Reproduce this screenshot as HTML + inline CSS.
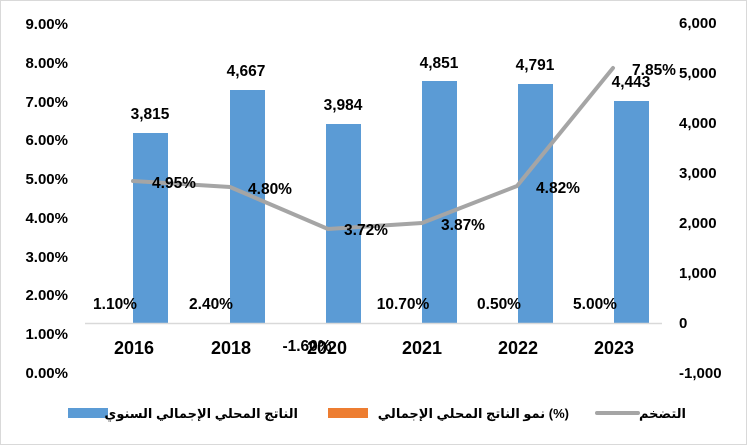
<!DOCTYPE html>
<html><head><meta charset="utf-8"><style>
html,body{margin:0;padding:0;background:#fff}
svg{display:block}
text{font-family:"Liberation Sans","DejaVu Sans",sans-serif;font-weight:bold;fill:#000}
</style></head><body>
<svg width="747" height="445" viewBox="0 0 747 445" xmlns="http://www.w3.org/2000/svg">
<rect x="0.5" y="0.5" width="746" height="444" fill="#fff" stroke="#d9d9d9"/>
<g font-size="15" text-anchor="end">
<text x="68" y="29">9.00%</text><text x="68" y="68">8.00%</text><text x="68" y="107">7.00%</text>
<text x="68" y="145">6.00%</text><text x="68" y="184">5.00%</text><text x="68" y="223">4.00%</text>
<text x="68" y="262">3.00%</text><text x="68" y="300">2.00%</text><text x="68" y="339">1.00%</text>
<text x="68" y="378">0.00%</text>
</g>
<g font-size="15" text-anchor="start">
<text x="679" y="28">6,000</text><text x="679" y="78">5,000</text><text x="679" y="128">4,000</text>
<text x="679" y="178">3,000</text><text x="679" y="228">2,000</text><text x="679" y="278">1,000</text>
<text x="679" y="328">0</text><text x="679" y="378">-1,000</text>
</g>
<g fill="#5b9bd5">
<rect x="133" y="133" width="35" height="190"/>
<rect x="230" y="90" width="35" height="233"/>
<rect x="326" y="124" width="35" height="199"/>
<rect x="422" y="81" width="35" height="242"/>
<rect x="518" y="84" width="35" height="239"/>
<rect x="614" y="101" width="35" height="222"/>
</g>
<line x1="85" y1="323.5" x2="662" y2="323.5" stroke="#d9d9d9" stroke-width="1.5"/>
<polyline points="133,181 230,187 328,229 422,223 517,186 613,68" fill="none" stroke="#a5a5a5" stroke-width="4" stroke-linejoin="round" stroke-linecap="round"/>
<g font-size="15.5" text-anchor="middle">
<text x="150" y="119">3,815</text><text x="246" y="76">4,667</text><text x="343" y="110">3,984</text>
<text x="439" y="68">4,851</text><text x="535" y="70">4,791</text><text x="631" y="87">4,443</text>
<text x="174" y="188">4.95%</text><text x="270" y="194">4.80%</text><text x="366" y="235">3.72%</text>
<text x="463" y="230">3.87%</text><text x="558" y="193">4.82%</text><text x="654" y="75">7.85%</text>
<text x="115" y="309">1.10%</text><text x="211" y="309">2.40%</text><text x="307" y="351">-1.60%</text>
<text x="403" y="309">10.70%</text><text x="499" y="309">0.50%</text><text x="595" y="309">5.00%</text>
</g>
<g font-size="18" text-anchor="middle">
<text x="134" y="354">2016</text><text x="231" y="354">2018</text><text x="327" y="354">2020</text>
<text x="422" y="354">2021</text><text x="518" y="354">2022</text><text x="614" y="354">2023</text>
</g>
<rect x="68" y="408" width="40" height="10" fill="#5b9bd5"/>
<text x="298" y="418" font-size="13" text-anchor="end">الناتج المحلي الإجمالي السنوي</text>
<rect x="328" y="408" width="40" height="10" fill="#ed7d31"/>
<text x="569" y="418" font-size="13" text-anchor="end">نمو الناتج المحلي الإجمالي (%)</text>
<line x1="597" y1="413" x2="638" y2="413" stroke="#a5a5a5" stroke-width="4" stroke-linecap="round"/>
<text x="686" y="418" font-size="13" text-anchor="end">التضخم</text>
</svg>
</body></html>
